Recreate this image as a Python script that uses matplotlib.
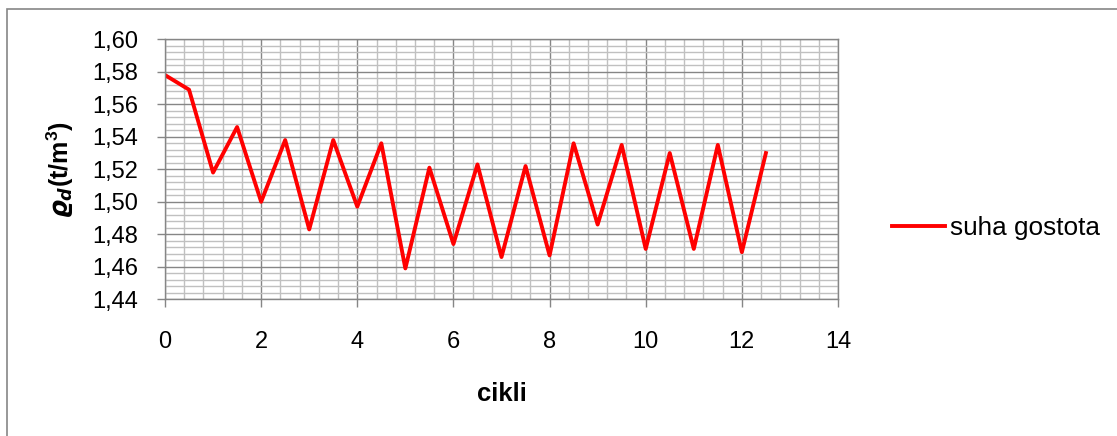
import matplotlib
matplotlib.use("Agg")
import matplotlib.pyplot as plt
from matplotlib.ticker import MultipleLocator, FuncFormatter
from matplotlib.patches import Rectangle

# ---- DATI ----
cikli = [0, 0.5, 1, 1.5, 2, 2.5, 3, 3.5, 4, 4.5, 5, 5.5, 6, 6.5,
         7, 7.5, 8, 8.5, 9, 9.5, 10, 10.5, 11, 11.5, 12, 12.5]
gostota = [1.578, 1.569, 1.518, 1.546, 1.500, 1.538, 1.483, 1.538, 1.497,
           1.536, 1.459, 1.521, 1.474, 1.523, 1.466, 1.522, 1.467, 1.536,
           1.486, 1.535, 1.471, 1.530, 1.471, 1.535, 1.469, 1.530]
serija = "suha gostota"

plt.rcParams['font.family'] = ['Liberation Sans', 'DejaVu Sans']
plt.rcParams['mathtext.fontset'] = 'custom'
plt.rcParams['mathtext.it'] = 'DejaVu Sans:italic:bold'
plt.rcParams['mathtext.rm'] = 'Liberation Sans:bold'

W, H = 1117, 436
fig = plt.figure(figsize=(W / 100, H / 100), dpi=100)
ax = fig.add_axes([165 / W, 1 - 299.3 / H, (838 - 165) / W, 260 / H])

# bordo esterno del grafico
fig.patches.append(Rectangle((7 / W, -0.1), 1.2, 1 - 9.5 / H + 0.1,
                             transform=fig.transFigure, fill=False,
                             edgecolor='#868686', linewidth=1.2))

ax.plot(cikli, gostota, color='#ff0000', linewidth=2.8, label=serija)

ax.set_xlim(0, 14)
ax.set_ylim(1.44, 1.60)
ax.xaxis.set_major_locator(MultipleLocator(2))
ax.xaxis.set_minor_locator(MultipleLocator(0.4))
ax.yaxis.set_major_locator(MultipleLocator(0.02))
ax.yaxis.set_minor_locator(MultipleLocator(0.004))
ax.yaxis.set_major_formatter(FuncFormatter(lambda v, p: f"{v:.2f}".replace('.', ',')))

ax.grid(which='major', color='#868686', linewidth=1.0)
ax.grid(which='minor', color='#c0c0c0', linewidth=1.0)
ax.set_axisbelow(True)
for s in ax.spines.values():
    s.set_color('#868686')
    s.set_linewidth(1.0)

ax.tick_params(which='major', length=6, width=1, color='#868686',
               labelsize=17, labelcolor='black')
ax.tick_params(axis='x', which='major', pad=17)
ax.tick_params(axis='y', which='major', pad=13)
ax.tick_params(which='minor', length=0)

ax.set_xlabel("cikli", fontsize=18.5, fontweight='bold', labelpad=21)
ax.set_ylabel(r"$\varrho_d$(t/m$^\mathregular{3}$)", fontsize=18,
              fontweight='bold', labelpad=12)

fig.legend(loc='center left', bbox_to_anchor=(882 / W, 1 - 228 / H),
           frameon=False, fontsize=18.8, handlelength=2.0,
           handletextpad=0.2, borderaxespad=0)

fig.savefig("out.png", dpi=100)
